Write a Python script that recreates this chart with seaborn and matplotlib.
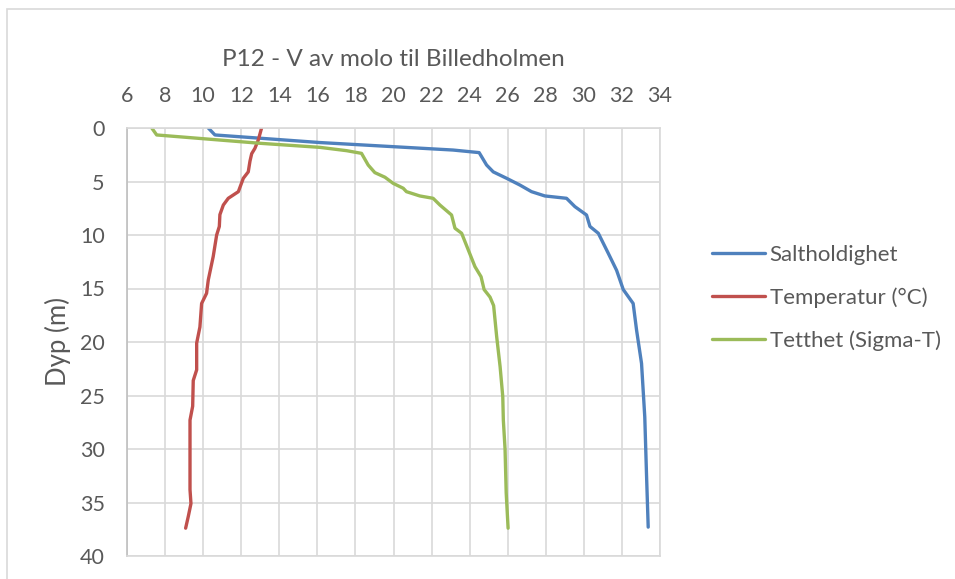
"""CTD-profil P12 - V av molo til Billedholmen."""

import matplotlib.pyplot as plt
from matplotlib.patches import Rectangle
import pandas as pd
import seaborn as sns

# Saltholdighet
sal_depth = [0, 0.65, 1.36, 2.06, 2.3, 3.46, 4.1, 4.7, 5.33, 5.95, 6.35, 6.57, 7.35,
             8.13, 9.2, 9.84, 11.7, 13.3, 15.1, 16.4, 18.9, 22.0, 27.0, 32.3, 37.3]
sal_value = [10.27, 10.62, 16.14, 23.13, 24.5, 24.89, 25.24, 25.94, 26.64, 27.25, 27.95,
             29.09, 29.53, 30.14, 30.32, 30.76, 31.28, 31.72, 32.07, 32.59, 32.77, 33.03,
             33.2, 33.29, 33.38]

# Temperatur (°C)
temp_depth = [0, 1.1, 1.9, 2.4, 3.1, 4.1, 4.7, 5.95, 6.57, 7.2, 8.1, 9.2, 10.0, 12.0,
              14.2, 15.45, 16.4, 18.6, 20.1, 22.6, 23.6, 26.0, 27.3, 29.8, 33.8, 35.1,
              36.3, 37.4]
temp_value = [13.07, 12.9, 12.72, 12.55, 12.46, 12.37, 12.11, 11.85, 11.32, 11.06, 10.88,
              10.85, 10.71, 10.53, 10.27, 10.18, 9.92, 9.83, 9.66, 9.66, 9.48, 9.45, 9.31,
              9.31, 9.31, 9.36, 9.22, 9.08]

# Tetthet (Sigma-T)
sig_depth = [0, 0.65, 1.43, 1.81, 2.12, 2.37, 3.46, 4.17, 4.6, 5.17, 5.63, 5.95, 6.35,
             6.57, 7.2, 8.13, 9.37, 9.84, 11.4, 12.96, 13.9, 15.1, 15.8, 16.6, 19.5,
             22.3, 25.1, 27.3, 30.0, 34.1, 37.4]
sig_value = [7.3, 7.56, 13.0, 16.14, 17.54, 18.32, 18.67, 19.02, 19.55, 19.98, 20.51,
             20.68, 21.38, 22.08, 22.44, 23.05, 23.23, 23.58, 23.93, 24.28, 24.6, 24.76,
             25.07, 25.26, 25.42, 25.6, 25.74, 25.77, 25.86, 25.92, 26.02]

series_names = ["Saltholdighet", "Temperatur (°C)", "Tetthet (Sigma-T)"]
x_ticks = list(range(6, 35, 2))
y_ticks = list(range(0, 41, 5))

sns.set_style("white")
plt.rcParams["font.family"] = ["Lato", "DejaVu Sans"]
text_color = "#595959"

frames = []
for name, depth, value in zip(series_names,
                              [sal_depth, temp_depth, sig_depth],
                              [sal_value, temp_value, sig_value]):
    frames.append(pd.DataFrame({"serie": name, "dyp": depth, "verdi": value}))
df = pd.concat(frames, ignore_index=True)

fig = plt.figure(figsize=(9.55, 5.79), dpi=100)
ax = fig.add_axes([127 / 955, 1 - 556 / 579, 533 / 955, 428 / 579])

palette = {"Saltholdighet": "#4F81BD",
           "Temperatur (°C)": "#C0504D",
           "Tetthet (Sigma-T)": "#9BBB59"}
sns.lineplot(data=df, x="verdi", y="dyp", hue="serie", units="serie",
             estimator=None, sort=False, palette=palette, linewidth=2.4, ax=ax)

ax.set_xlim(6, 34)
ax.set_ylim(40, 0)
ax.set_xticks(x_ticks)
ax.set_yticks(y_ticks)
ax.xaxis.tick_top()
ax.tick_params(axis="both", length=0, labelsize=15.5, colors=text_color)
ax.tick_params(axis="x", pad=16)
ax.tick_params(axis="y", pad=16)
ax.grid(True, color="#D9D9D9", linewidth=1.2)
ax.set_axisbelow(True)
for side, spine in ax.spines.items():
    spine.set_color("#D9D9D9")
    spine.set_linewidth(1.2)
ax.spines["left"].set_color("#BFBFBF")
ax.set_xlabel("")
ax.set_ylabel("Dyp (m)", fontsize=18.5, color=text_color, labelpad=6)
fig.text(393 / 955, 1 - 60 / 579, "P12 - V av molo til Billedholmen",
         ha="center", va="center", fontsize=17.5, color=text_color)

handles, labels = ax.get_legend_handles_labels()
ax.get_legend().remove()
fig.legend(handles, labels, loc="center left", bbox_to_anchor=(712 / 955, 1 - 298 / 579),
           frameon=False, fontsize=16, handlelength=2.4, handletextpad=0.2,
           labelspacing=1.0, borderpad=0, borderaxespad=0, labelcolor=text_color)

fig.add_artist(Rectangle((7 / 955, -0.1), 1.0, 1 - 9 / 579 + 0.1,
                         transform=fig.transFigure, fill=False,
                         edgecolor="#D9D9D9", linewidth=1.2))

fig.savefig("out.png", dpi=100)
plt.close(fig)
